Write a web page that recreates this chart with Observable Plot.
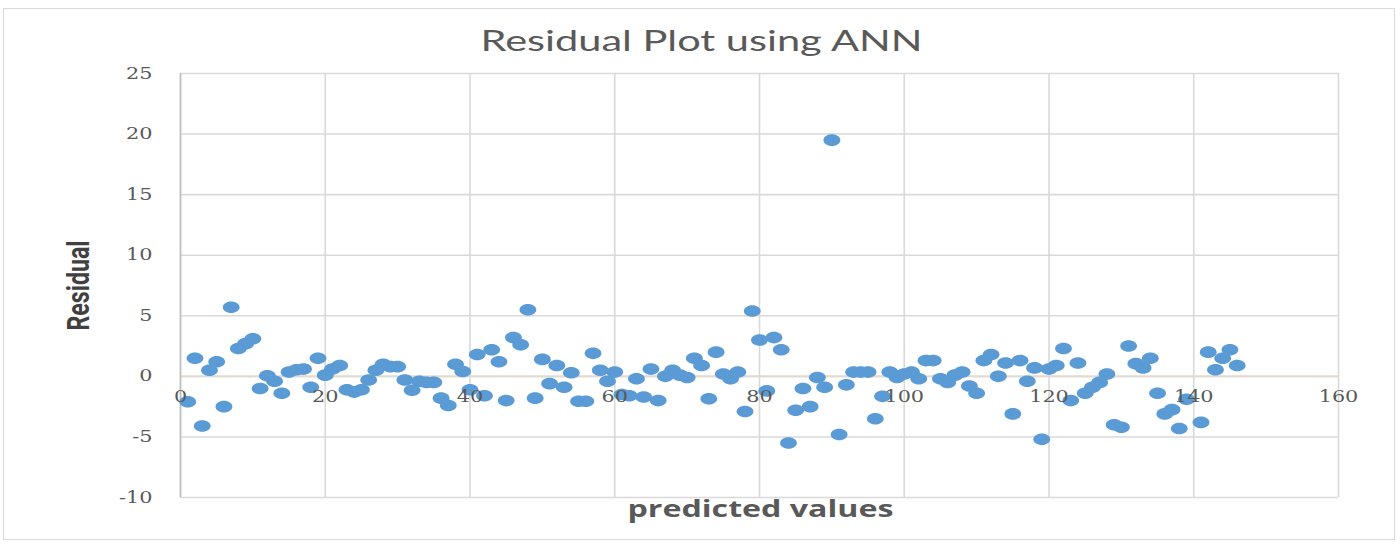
<!DOCTYPE html>
<html>
<head>
<meta charset="utf-8">
<script src="https://cdn.jsdelivr.net/npm/d3@7"></script>
<script src="https://cdn.jsdelivr.net/npm/@observablehq/plot@0.6"></script>
<style>
  html, body { margin: 0; padding: 0; background: #fff; }
  #wrap { position: relative; width: 1400px; height: 545px; overflow: hidden; }
  #border { position: absolute; left: 3px; top: 8px; width: 1390px; height: 530px; border: 1.5px solid #d9d9d9; pointer-events: none; }
</style>
</head>
<body>
<div id="wrap"><div id="border"></div></div>
<script>
const chartTitle = "Residual Plot using ANN";
const xLabel = "predicted values";
const yLabel = "Residual";
const xTicks = [0, 20, 40, 60, 80, 100, 120, 140, 160];
const yTicks = [-10, -5, 0, 5, 10, 15, 20, 25];

const predicted = [
  1, 2, 3, 4, 5, 6, 7, 8, 9, 10,
  11, 12, 13, 14, 15, 16, 17, 18, 19, 20,
  21, 22, 23, 24, 25, 26, 27, 28, 29, 30,
  31, 32, 33, 34, 35, 36, 37, 38, 39, 40,
  41, 42, 43, 44, 45, 46, 47, 48, 49, 50,
  51, 52, 53, 54, 55, 56, 57, 58, 59, 60,
  61, 62, 63, 64, 65, 66, 67, 68, 69, 70,
  71, 72, 73, 74, 75, 76, 77, 78, 79, 80,
  81, 82, 83, 84, 85, 86, 87, 88, 89, 90,
  91, 92, 93, 94, 95, 96, 97, 98, 99, 100,
  101, 102, 103, 104, 105, 106, 107, 108, 109, 110,
  111, 112, 113, 114, 115, 116, 117, 118, 119, 120,
  121, 122, 123, 124, 125, 126, 127, 128, 129, 130,
  131, 132, 133, 134, 135, 136, 137, 138, 139, 141,
  142, 143, 144, 145, 146
];
const residual = [
  -2.1, 1.5, -4.1, 0.5, 1.2, -2.5, 5.7, 2.3, 2.7, 3.1,
  -1.0, 0.05, -0.4, -1.4, 0.35, 0.55, 0.6, -0.9, 1.5, 0.1,
  0.6, 0.9, -1.1, -1.3, -1.1, -0.3, 0.5, 1.0, 0.8, 0.8,
  -0.3, -1.15, -0.4, -0.5, -0.5, -1.8, -2.4, 1.0, 0.4, -1.1,
  1.8, -1.6, 2.2, 1.2, -2.0, 3.2, 2.6, 5.5, -1.8, 1.4,
  -0.6, 0.9, -0.9, 0.3, -2.05, -2.05, 1.9, 0.5, -0.4, 0.35,
  -1.5, -1.6, -0.2, -1.7, 0.6, -2.0, 0.0, 0.5, 0.1, -0.1,
  1.5, 0.9, -1.85, 2.0, 0.2, -0.2, 0.35, -2.9, 5.4, 3.0,
  -1.2, 3.2, 2.2, -5.5, -2.8, -1.0, -2.5, -0.1, -0.9, 19.5,
  -4.8, -0.7, 0.35, 0.35, 0.35, -3.5, -1.65, 0.35, -0.1, 0.2,
  0.35, -0.2, 1.3, 1.3, -0.2, -0.5, 0.1, 0.35, -0.8, -1.4,
  1.3, 1.8, 0.0, 1.1, -3.1, 1.3, -0.4, 0.7, -5.2, 0.6,
  0.9, 2.3, -2.0, 1.1, -1.4, -0.9, -0.5, 0.2, -4.0, -4.2,
  2.5, 1.05, 0.7, 1.5, -1.4, -3.1, -2.75, -4.3, -1.9, -3.8,
  2.0, 0.55, 1.5, 2.2, 0.9
];

const points = predicted.map((x, i) => ({x, y: residual[i]}));

// horizontally elongated dot, like the stretched Excel markers
const ellipse = {
  draw(context, size) {
    const ry = Math.sqrt(size / Math.PI);
    const rx = ry * 1.45;
    const k = 0.5523;
    context.moveTo(rx, 0);
    context.bezierCurveTo(rx, k * ry, k * rx, ry, 0, ry);
    context.bezierCurveTo(-k * rx, ry, -rx, k * ry, -rx, 0);
    context.bezierCurveTo(-rx, -k * ry, -k * rx, -ry, 0, -ry);
    context.bezierCurveTo(k * rx, -ry, rx, -k * ry, rx, 0);
    context.closePath();
  }
};

const tickFont = "DejaVu Serif";
const chart = Plot.plot({
  width: 1400,
  height: 545,
  marginLeft: 180,
  marginRight: 62,
  marginTop: 73,
  marginBottom: 48,
  style: {background: "transparent", overflow: "visible"},
  x: {domain: [0, 160], axis: null},
  y: {domain: [-10, 25], axis: null},
  marks: [
    Plot.gridY(yTicks, {stroke: "#d9d9d9", strokeOpacity: 1, strokeWidth: 1.6}),
    Plot.gridX(xTicks, {stroke: "#d9d9d9", strokeOpacity: 1, strokeWidth: 1.6}),
    Plot.ruleY([0], {stroke: "#e3d9cf", strokeWidth: 1.6}),
    Plot.ruleX([0], {stroke: "#bfbfbf", strokeWidth: 1.6}),
    Plot.dot(points, {x: "x", y: "y", r: 5.8, symbol: ellipse, fill: "#5b9bd5", stroke: "none"}),
    Plot.text(yTicks, {x: 0, y: d => d, text: d => String(d), textAnchor: "end", dx: -28, fill: "#595959", fontSize: 16, fontFamily: tickFont}),
    Plot.text(xTicks, {x: d => d, y: 0, text: d => String(d), dy: 21, fill: "#595959", fontSize: 16, fontFamily: tickFont}),
    Plot.text([chartTitle], {frameAnchor: "top", dx: -58, dy: -42, text: d => d, fill: "#595959", fontSize: 28, fontFamily: "Lato"}),
    Plot.text([xLabel], {frameAnchor: "bottom", dx: 1, dy: 19, text: d => d, fill: "#595959", fontSize: 24, fontWeight: "bold", fontFamily: "Open Sans"}),
    Plot.text([yLabel], {frameAnchor: "left", dx: -101, dy: 45, rotate: -90, textAnchor: "start", text: d => d, fill: "#404040", fontSize: 31, fontWeight: "bold", fontFamily: "Liberation Sans Narrow, Roboto"})
  ]
});
document.getElementById("wrap").appendChild(chart);
chart.style.position = "absolute";
chart.style.left = "0px";
chart.style.top = "0px";

// stretch texts horizontally to the reference's proportions
const stretch = {
  [chartTitle]: 442,
  [xLabel]: 266,
  [yLabel]: 90
};
chart.querySelectorAll("text").forEach(t => {
  const s = t.textContent;
  if (stretch[s]) {
    t.setAttribute("textLength", stretch[s]);
    t.setAttribute("lengthAdjust", "spacingAndGlyphs");
  } else if (/^-?\d+$/.test(s)) {
    const w = t.getComputedTextLength();
    t.setAttribute("textLength", (w * 1.3).toFixed(1));
    t.setAttribute("lengthAdjust", "spacingAndGlyphs");
  }
});
</script>
</body>
</html>
